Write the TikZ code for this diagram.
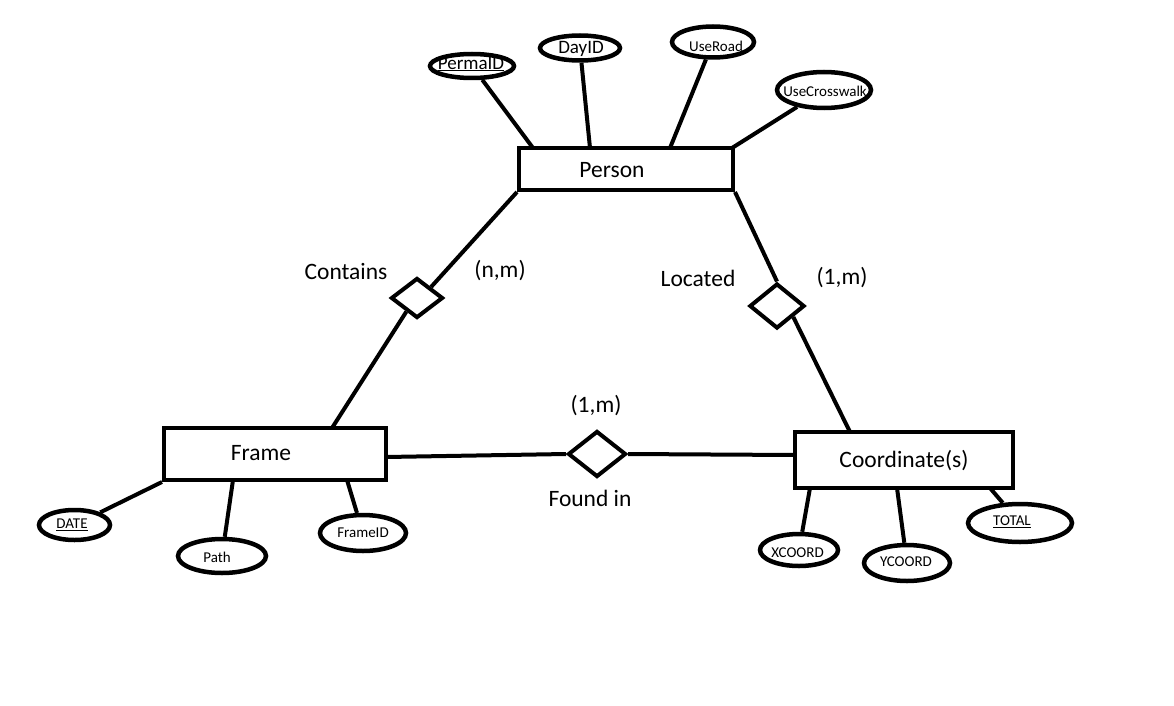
\documentclass[tikz,border=0pt]{standalone}
\usepackage{fontspec}
\setmainfont{Carlito}
\usetikzlibrary{shapes.geometric}
\begin{document}
\begin{tikzpicture}[x=1pt,y=-1pt,
  entbox/.style={draw,rectangle,line width=4pt,inner sep=0pt},
  attr/.style={draw,ellipse,line width=4.5pt,inner sep=0pt},
  rel/.style={draw,diamond,line width=4pt,inner sep=0pt},
  conn/.style={line width=4pt},
  bigtext/.style={inner sep=0pt,font=\fontsize{23.5}{26}\selectfont},
  midtext/.style={inner sep=0pt,font=\fontsize{19}{22}\selectfont},
  smalltext/.style={inner sep=0pt,font=\fontsize{15}{18}\selectfont}]
\useasboundingbox (0,0) rectangle (1174,706);
\fill[white] (0,0) rectangle (1174,706);

% entities
\node[entbox,minimum width=214pt,minimum height=42pt] (person) at (626,169) {};
\node[bigtext] (personT) at (612,170) {Person};
\node[entbox,minimum width=222pt,minimum height=52pt] (frame) at (275,454) {};
\node[bigtext] (frameT) at (261,453) {Frame};
\node[entbox,minimum width=218pt,minimum height=56pt] (coord) at (904,460) {};
\node[bigtext] (coordT) at (904,461) {Coordinate(s)};

% attributes of Person
\node[attr,minimum width=84pt,minimum height=24pt] (permaid) at (472,66) {};
\node[midtext] (permaidT) at (471,64) {\underline{PermaID}};
\node[attr,minimum width=80pt,minimum height=25pt] (dayid) at (580,48) {};
\node[midtext] (dayidT) at (581,49) {DayID};
\node[attr,minimum width=82pt,minimum height=31pt] (useroad) at (713,42) {};
\node[smalltext] (useroadT) at (716,46) {UseRoad};
\node[attr,minimum width=94pt,minimum height=36pt] (usecross) at (824,90) {};
\node[smalltext] (usecrossT) at (825,91) {UseCrosswalk};

% attributes of Frame
\node[attr,minimum width=71pt,minimum height=30pt] (date) at (74.5,525) {};
\node[smalltext] (dateT) at (72,525) {\underline{DATE}};
\node[attr,minimum width=88pt,minimum height=34pt] (path) at (222,556) {};
\node[smalltext] (pathT) at (217,557) {Path};
\node[attr,minimum width=86pt,minimum height=36pt] (frameid) at (363,533) {};
\node[smalltext] (frameidT) at (363,533) {FrameID};

% attributes of Coordinate(s)
\node[attr,minimum width=78pt,minimum height=32pt] (xcoord) at (799,550) {};
\node[smalltext] (xcoordT) at (797.5,553) {XCOORD};
\node[attr,minimum width=86pt,minimum height=36pt] (ycoord) at (907,563) {};
\node[smalltext] (ycoordT) at (906,562) {YCOORD};
\node[attr,minimum width=104pt,minimum height=38pt] (total) at (1020,523) {};
\node[smalltext] (totalT) at (1012,522) {\underline{TOTAL}};

% relationships
\node[rel,minimum width=52pt,minimum height=40pt] (contains) at (417,298) {};
\node[rel,minimum width=55pt,minimum height=45pt] (located) at (777,306) {};
\node[rel,minimum width=58pt,minimum height=46pt] (found) at (597,454) {};

% labels
\node[bigtext] (containsT) at (346,271) {Contains};
\node[bigtext] (nmT) at (500,271) {(n,m)};
\node[bigtext] (locatedT) at (698,278) {Located};
\node[bigtext] (onemT) at (842,278) {(1,m)};
\node[bigtext] (onemfT) at (596,406) {(1,m)};
\node[bigtext] (foundT) at (590,498) {Found in};

% attachment points
\coordinate (pPerma) at (533,148);
\coordinate (pDay) at (590,148);
\coordinate (pRoad) at (670,148);
\coordinate (pCross) at (732,148);
\coordinate (fPath) at (233,480);
\coordinate (fFrameID) at (347,480);
\coordinate (fTop) at (332,428);
\coordinate (fRight) at (386,457);
\coordinate (cLeft) at (795,455);
\coordinate (cTop) at (850,432);
\coordinate (cX) at (810,488);
\coordinate (cY) at (897,488);
\coordinate (cTot) at (990,488);

% connectors
\draw[conn] (permaid) -- (pPerma);
\draw[conn] (dayid) -- (pDay);
\draw[conn] (useroad) -- (pRoad);
\draw[conn] (usecross) -- (pCross);
\draw[conn] (date) -- (frame.south west);
\draw[conn] (path) -- (fPath);
\draw[conn] (frameid) -- (fFrameID);
\draw[conn] (xcoord) -- (cX);
\draw[conn] (ycoord) -- (cY);
\draw[conn] (total) -- (cTot);
\draw[conn] (person.south west) -- (contains.38);
\draw[conn] (contains.-128) -- (fTop);
\draw[conn] (person.south east) -- (located.north);
\draw[conn] (located.-34) -- (cTop);
\draw[conn] (fRight) -- (found.west);
\draw[conn] (found.east) -- (cLeft);
\end{tikzpicture}
\end{document}
